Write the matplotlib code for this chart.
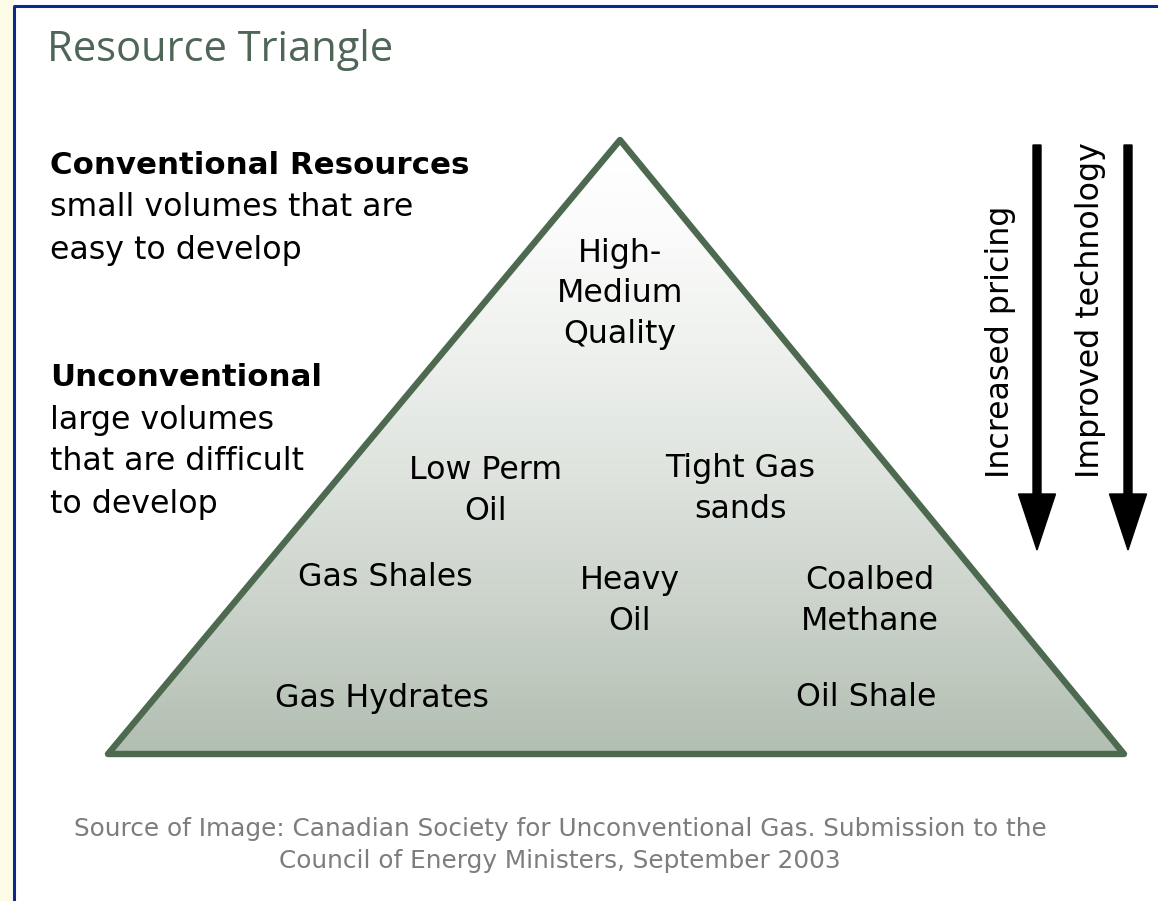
import numpy as np
import matplotlib
matplotlib.use('Agg')
import matplotlib.pyplot as plt
from matplotlib.patches import Polygon, Rectangle, FancyArrow

# --- content ---
title = 'Resource Triangle'
conv_head = 'Conventional Resources'
conv_body = ['small volumes that are', 'easy to develop']
unconv_head = 'Unconventional'
unconv_body = ['large volumes', 'that are difficult', 'to develop']
tri_labels = ['High-\nMedium\nQuality', 'Low Perm\nOil', 'Tight Gas\nsands',
              'Gas Shales', 'Heavy\nOil', 'Coalbed\nMethane',
              'Gas Hydrates', 'Oil Shale']
arrow_labels = ['Increased pricing', 'Improved technology']
source = ('Source of Image: Canadian Society for Unconventional Gas. Submission to the\n'
          'Council of Energy Ministers, September 2003')

# --- layout (pixel coordinates) ---
W, H = 1158, 901
apex = (620, 140)
base_l = (108, 754)
base_r = (1124, 754)
label_pos = [(620, 294), (486, 491), (740, 489), (385, 578),
             (630, 601), (870, 601), (382, 698), (866, 698)]
arrow_x = [1037, 1128]
arrow_text_x = [1000, 1090]

plt.rcParams['font.family'] = ['DejaVu Sans']
FS = 22.8

fig = plt.figure(figsize=(W / 100, H / 100), dpi=100)
ax = fig.add_axes([0, 0, 1, 1])

# page frame
ax.add_patch(Rectangle((0, 0), 13, H, color='#fcfbe6', zorder=0))
ax.plot([14, 14], [6, H], color='#0a2b8c', lw=2.2, solid_capstyle='butt')
ax.plot([13, W], [6, 6], color='#0a2b8c', lw=2.2, solid_capstyle='butt')

# triangle with vertical gradient
tri = Polygon([apex, base_l, base_r], closed=True, facecolor='none',
              edgecolor='#4d6a50', lw=4.6, joinstyle='round', zorder=3)
ax.add_patch(tri)
t = np.linspace(0, 1, 256) ** 1.4
top = np.array([1.0, 1.0, 1.0])
bot = np.array([178, 190, 177]) / 255
grad = top[None, :] * (1 - t[:, None]) + bot[None, :] * t[:, None]
img = ax.imshow(grad[:, None, :], extent=[base_l[0], base_r[0], base_l[1], apex[1]],
                aspect='auto', zorder=2, interpolation='bilinear', origin='upper')
clip = Polygon([apex, base_l, base_r], closed=True, transform=ax.transData)
img.set_clip_path(clip)
ax.set_xlim(0, W)
ax.set_ylim(H, 0)
ax.axis('off')

# title
ax.text(47, 50, title, fontsize=30, color='#4f6656', family=['Open Sans', 'DejaVu Sans'],
        va='center', ha='left')

# left annotations
ax.text(50, 166, conv_head, fontsize=22.2, fontweight='bold', va='center')
for i, s in enumerate(conv_body):
    ax.text(50, 208 + i * 42, s, fontsize=FS, va='center')
ax.text(50, 378, unconv_head, fontsize=22.2, fontweight='bold', va='center')
for i, s in enumerate(unconv_body):
    ax.text(50, 420 + i * 42, s, fontsize=FS, va='center')

# triangle labels
for s, (x, y) in zip(tri_labels, label_pos):
    ax.text(x, y, s, fontsize=FS, ha='center', va='center', linespacing=1.4, zorder=4)

# arrows
for x, tx, s in zip(arrow_x, arrow_text_x, arrow_labels):
    ax.add_patch(FancyArrow(x, 145, 0, 405, width=8, head_width=37, head_length=56,
                            length_includes_head=True, color='black', zorder=4))
    ax.text(tx, 478, s, fontsize=FS, rotation=90, ha='center', va='bottom')

# source
ax.text(560, 845, source, fontsize=17.8, color='#7d7d7d', ha='center', va='center',
        linespacing=1.45)

fig.savefig('out.png', dpi=100)
